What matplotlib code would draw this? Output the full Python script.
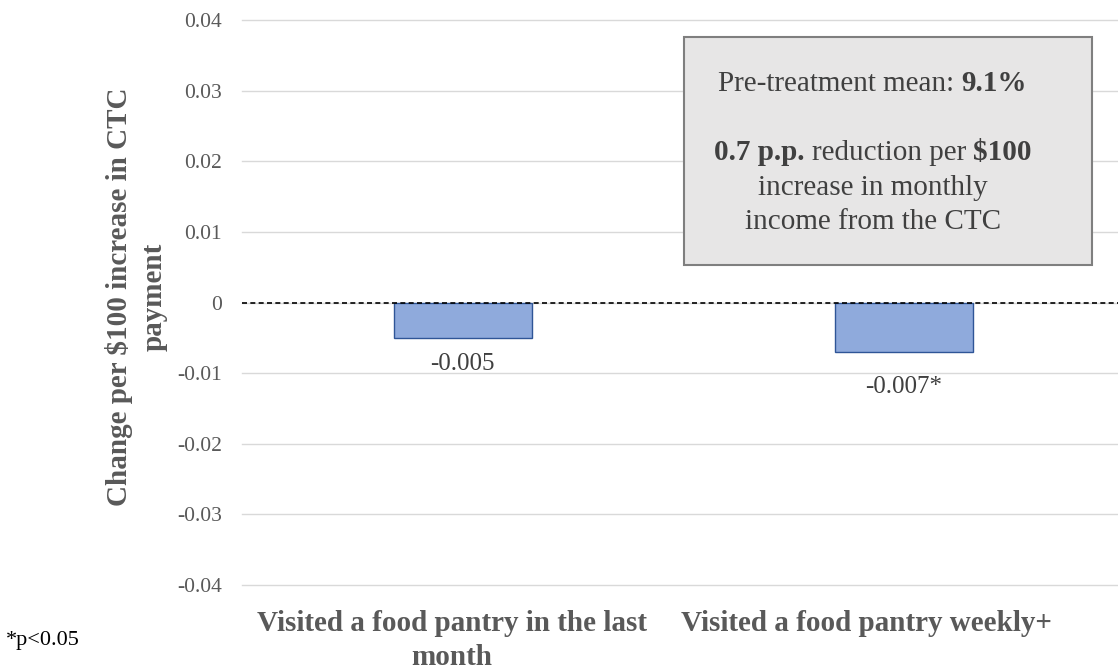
import matplotlib
matplotlib.use("Agg")
import matplotlib.pyplot as plt
import matplotlib.transforms as mtransforms
from matplotlib.patches import Rectangle
from matplotlib.offsetbox import TextArea, HPacker, VPacker, AnnotationBbox

# === Данные ===
categories = ["Visited a food pantry in the last\nmonth", "Visited a food pantry weekly+"]
values = [-0.005, -0.007]
value_labels = ["-0.005", "-0.007*"]
y_ticks = [-0.04, -0.03, -0.02, -0.01, 0, 0.01, 0.02, 0.03, 0.04]
y_tick_labels = ["-0.04", "-0.03", "-0.02", "-0.01", "0", "0.01", "0.02", "0.03", "0.04"]

plt.rcParams['font.family'] = ['Liberation Serif', 'DejaVu Serif']

GRAY = "#595959"
TXT = "#404040"

fig = plt.figure(figsize=(11.18, 6.7), dpi=100)
ax = fig.add_axes([0.2165, 0.127, 0.789, 0.843])

x = list(range(len(categories)))
ax.bar(x, values, width=0.313, color="#8FAADC", edgecolor="#2F5597", linewidth=1, zorder=3)
ax.axhline(0, color="black", linestyle=(0, (3, 2)), linewidth=1.2, zorder=4)

# подписи значений под столбиками
label_offsets = [-11, -17]
for xi, v, lab, dy in zip(x, values, value_labels, label_offsets):
    ax.annotate(lab, (xi, v), xytext=(0, dy), textcoords="offset points",
                ha="center", va="top", fontsize=18, color=TXT, zorder=6)

ax.set_xlim(-0.5, 1.5)
ax.set_ylim(-0.04, 0.04)
ax.set_yticks(y_ticks)
ax.set_yticklabels(y_tick_labels, fontsize=15.5, color=GRAY)
ax.set_xticks(x)
ax.set_xticklabels(categories, fontsize=21, fontweight="bold", color=GRAY, linespacing=1.32)
ax.tick_params(axis="both", length=0)
ax.tick_params(axis="y", pad=14.5)
ax.tick_params(axis="x", pad=18)
ax.grid(axis="y", color="#D9D9D9", linewidth=1, zorder=0)
for gl in ax.get_ygridlines():
    gl.set_clip_on(False)
for s in ax.spines.values():
    s.set_visible(False)

# подписи категорий в Excel чуть сдвинуты влево
shifts = [-11, -37]
for lbl, dx in zip(ax.get_xticklabels(), shifts):
    lbl.set_transform(lbl.get_transform() + mtransforms.ScaledTranslation(dx / 100, 0, fig.dpi_scale_trans))

ax.set_ylabel("Change per $100 increase in CTC\npayment", fontsize=21, fontweight="bold",
              color=GRAY, linespacing=1.39)
ax.yaxis.set_label_coords(-0.084, 0.51)

# === Текстовый блок ===
box = Rectangle((0.501, 0.566), 0.4626, 0.404, transform=ax.transAxes,
                facecolor="#E7E6E6", edgecolor="#7F7F7F", linewidth=1.5, zorder=5)
ax.add_patch(box)

def ta(s, bold=False):
    return TextArea(s, textprops=dict(fontsize=21, color=TXT,
                                      fontweight="bold" if bold else "normal"))

line1 = HPacker(children=[ta("Pre-treatment mean:"), ta("9.1%", True)], sep=5, pad=0, align="baseline")
line2 = HPacker(children=[ta("0.7 p.p.", True), ta("reduction per"), ta("$100", True)], sep=5, pad=0, align="baseline")
line3 = ta("increase in monthly")
line4 = ta("income from the CTC")
blank = ta(" ")
packed = VPacker(children=[line1, blank, line2, line3, line4], sep=6, pad=0, align="center")
ab = AnnotationBbox(packed, (0.715, 0.766), xycoords=ax.transAxes, frameon=False,
                    box_alignment=(0.5, 0.5), zorder=6)
ax.add_artist(ab)

fig.text(0.005, 0.038, "*p<0.05", fontsize=16, color="black")

fig.savefig("out.png", dpi=100)
